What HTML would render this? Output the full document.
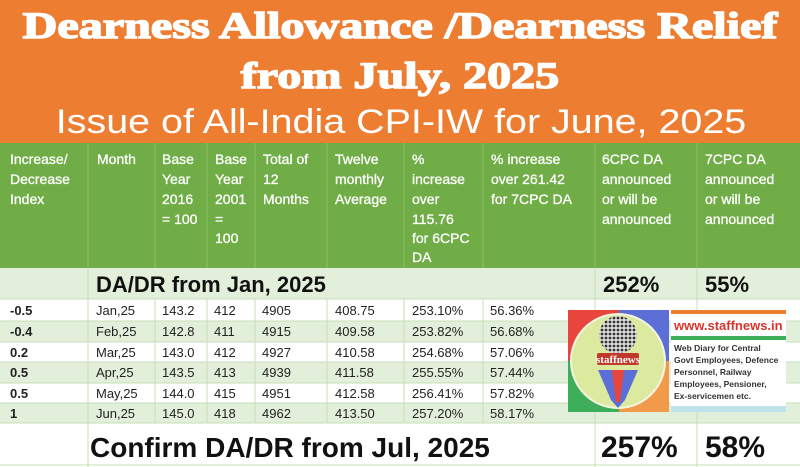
<!DOCTYPE html>
<html><head><meta charset="utf-8"><style>
html,body{margin:0;padding:0;width:800px;height:467px;overflow:hidden;background:#fff}
svg{display:block}
</style></head><body>
<svg width="800" height="467" viewBox="0 0 800 467" xmlns="http://www.w3.org/2000/svg" font-family="Liberation Sans, sans-serif">
<defs>
<pattern id="dots" width="4" height="4" patternUnits="userSpaceOnUse"><rect width="4" height="4" fill="#ddd"/><circle cx="2" cy="2" r="1.4" fill="#333"/></pattern>
</defs>
<rect x="0" y="0" width="800" height="143" fill="#ed7d31"/>
<g transform="translate(400,0) scale(1.3,1)">
<text x="0" y="38" text-anchor="middle" font-family="Liberation Serif, serif" font-weight="bold" font-size="37" fill="#fff" stroke="#fff" stroke-width="1.4">Dearness Allowance /Dearness Relief</text>
<text x="0" y="88" text-anchor="middle" font-family="Liberation Serif, serif" font-weight="bold" font-size="37" fill="#fff" stroke="#fff" stroke-width="1.4">from July, 2025</text>
</g>
<g transform="translate(401,0) scale(1.16,1)">
<text x="0" y="133" text-anchor="middle" font-size="34" fill="#fff">Issue of All-India CPI-IW for June, 2025</text>
</g>
<rect x="0" y="143" width="800" height="125" fill="#70ad47"/>
<g stroke="#8dbf6a" stroke-width="1">
<line x1="88" y1="143" x2="88" y2="268"/><line x1="155" y1="143" x2="155" y2="268"/><line x1="207" y1="143" x2="207" y2="268"/><line x1="255" y1="143" x2="255" y2="268"/><line x1="327" y1="143" x2="327" y2="268"/><line x1="404" y1="143" x2="404" y2="268"/><line x1="483" y1="143" x2="483" y2="268"/><line x1="595" y1="143" x2="595" y2="268"/><line x1="697" y1="143" x2="697" y2="268"/>
</g>
<g fill="#fff" font-size="14" stroke="#fff" stroke-width="0.3">
<text x="10" y="164">Increase/</text><text x="10" y="184">Decrease</text><text x="10" y="204">Index</text>
<text x="97" y="164">Month</text>
<text x="162" y="164">Base</text><text x="162" y="184">Year</text><text x="162" y="204">2016</text><text x="162" y="224">= 100</text>
<text x="215" y="164">Base</text><text x="215" y="184">Year</text><text x="215" y="204">2001</text><text x="215" y="224">=</text><text x="215" y="243">100</text>
<text x="263" y="164">Total of</text><text x="263" y="184">12</text><text x="263" y="204">Months</text>
<text x="335" y="164">Twelve</text><text x="335" y="184">monthly</text><text x="335" y="204">Average</text>
<text x="412" y="164">%</text><text x="412" y="184">increase</text><text x="412" y="204">over</text><text x="412" y="224">115.76</text><text x="412" y="243">for 6CPC</text><text x="412" y="262">DA</text>
<text x="491" y="164">% increase</text><text x="491" y="184">over 261.42</text><text x="491" y="204">for 7CPC DA</text>
<text x="602" y="164">6CPC DA</text><text x="602" y="184">announced</text><text x="602" y="204">or will be</text><text x="602" y="224">announced</text>
<text x="705" y="164">7CPC DA</text><text x="705" y="184">announced</text><text x="705" y="204">or will be</text><text x="705" y="224">announced</text>
</g>
<rect x="0" y="268" width="800" height="31" fill="#e2efda"/>
<rect x="0" y="299" width="800" height="22" fill="#fff"/>
<rect x="0" y="321" width="800" height="21" fill="#e2efda"/>
<rect x="0" y="342" width="800" height="20" fill="#fff"/>
<rect x="0" y="362" width="800" height="21" fill="#e2efda"/>
<rect x="0" y="383" width="800" height="20" fill="#fff"/>
<rect x="0" y="403" width="800" height="20" fill="#e2efda"/>
<rect x="0" y="423" width="800" height="44" fill="#fff"/>
<g stroke="#c6dfb5" stroke-width="1">
<line x1="0" y1="299" x2="800" y2="299"/><line x1="0" y1="321" x2="800" y2="321"/><line x1="0" y1="342" x2="800" y2="342"/><line x1="0" y1="362" x2="800" y2="362"/><line x1="0" y1="383" x2="800" y2="383"/><line x1="0" y1="403" x2="800" y2="403"/><line x1="0" y1="423" x2="800" y2="423"/><line x1="0" y1="465" x2="800" y2="465"/>
<line x1="88" y1="268" x2="88" y2="467"/><line x1="595" y1="268" x2="595" y2="467"/><line x1="697" y1="268" x2="697" y2="467"/>
<line x1="155" y1="299" x2="155" y2="423"/><line x1="207" y1="299" x2="207" y2="423"/><line x1="255" y1="299" x2="255" y2="423"/><line x1="327" y1="299" x2="327" y2="423"/><line x1="404" y1="299" x2="404" y2="423"/><line x1="483" y1="299" x2="483" y2="423"/>
</g>
<g font-weight="bold" fill="#111">
<text x="96" y="292" font-size="22">DA/DR from Jan, 2025</text>
<text x="603" y="292" font-size="22">252%</text>
<text x="705" y="292" font-size="22">55%</text>
<text x="90" y="457" font-size="28">Confirm DA/DR from Jul, 2025</text>
<text x="601" y="457" font-size="30">257%</text>
<text x="705" y="457" font-size="30">58%</text>
</g>
<g font-size="13" fill="#222">
<g font-weight="bold"><text x="10" y="315">-0.5</text><text x="10" y="336">-0.4</text><text x="10" y="357">0.2</text><text x="10" y="377">0.5</text><text x="10" y="398">0.5</text><text x="10" y="418">1</text></g>
<text x="96" y="315">Jan,25</text><text x="96" y="336">Feb,25</text><text x="96" y="357">Mar,25</text><text x="96" y="377">Apr,25</text><text x="96" y="398">May,25</text><text x="96" y="418">Jun,25</text>
<text x="162" y="315">143.2</text><text x="162" y="336">142.8</text><text x="162" y="357">143.0</text><text x="162" y="377">143.5</text><text x="162" y="398">144.0</text><text x="162" y="418">145.0</text>
<text x="214" y="315">412</text><text x="214" y="336">411</text><text x="214" y="357">412</text><text x="214" y="377">413</text><text x="214" y="398">415</text><text x="214" y="418">418</text>
<text x="262" y="315">4905</text><text x="262" y="336">4915</text><text x="262" y="357">4927</text><text x="262" y="377">4939</text><text x="262" y="398">4951</text><text x="262" y="418">4962</text>
<text x="335" y="315">408.75</text><text x="335" y="336">409.58</text><text x="335" y="357">410.58</text><text x="335" y="377">411.58</text><text x="335" y="398">412.58</text><text x="335" y="418">413.50</text>
<text x="412" y="315">253.10%</text><text x="412" y="336">253.82%</text><text x="412" y="357">254.68%</text><text x="412" y="377">255.55%</text><text x="412" y="398">256.41%</text><text x="412" y="418">257.20%</text>
<text x="490" y="315">56.36%</text><text x="490" y="336">56.68%</text><text x="490" y="357">57.06%</text><text x="490" y="377">57.44%</text><text x="490" y="398">57.82%</text><text x="490" y="418">58.17%</text>
</g>
<rect x="568" y="310" width="51" height="51" fill="#e8453c"/>
<rect x="619" y="310" width="50" height="51" fill="#5b6fd6"/>
<rect x="568" y="361" width="51" height="51" fill="#3fae5a"/>
<rect x="619" y="361" width="50" height="51" fill="#f19a4a"/>
<circle cx="618" cy="361" r="47" fill="#dceaa0" stroke="#f4f4e0" stroke-width="2"/>
<circle cx="618" cy="335" r="19" fill="url(#dots)"/>
<polygon points="598,370 638,370 625,400 618,408 611,400" fill="#5b6fd6"/>
<polygon points="612,370 624,370 620,402 616,402" fill="#e8453c"/>
<rect x="597" y="353" width="42" height="12" fill="#c0392b" rx="2"/>
<text x="618" y="363" text-anchor="middle" font-family="Liberation Serif, serif" font-weight="bold" font-size="11" fill="#fff">staffnews</text>
<rect x="671" y="310" width="115" height="102" fill="#fff"/>
<rect x="671" y="310" width="115" height="4" fill="#ed7d31"/>
<text x="674" y="330" font-size="13" font-weight="bold" fill="#d9342b">www.staffnews.in</text>
<rect x="671" y="336" width="115" height="4" fill="#3fae5a"/>
<g font-size="8.5" fill="#333" font-weight="bold">
<text x="674" y="351">Web Diary for Central</text>
<text x="674" y="363">Govt Employees, Defence</text>
<text x="674" y="375">Personnel,       Railway</text>
<text x="674" y="387">Employees,  Pensioner,</text>
<text x="674" y="399">Ex-servicemen etc.</text>
</g>
<rect x="671" y="406" width="115" height="6" fill="#bfe3ea"/>
</svg>
</body></html>
